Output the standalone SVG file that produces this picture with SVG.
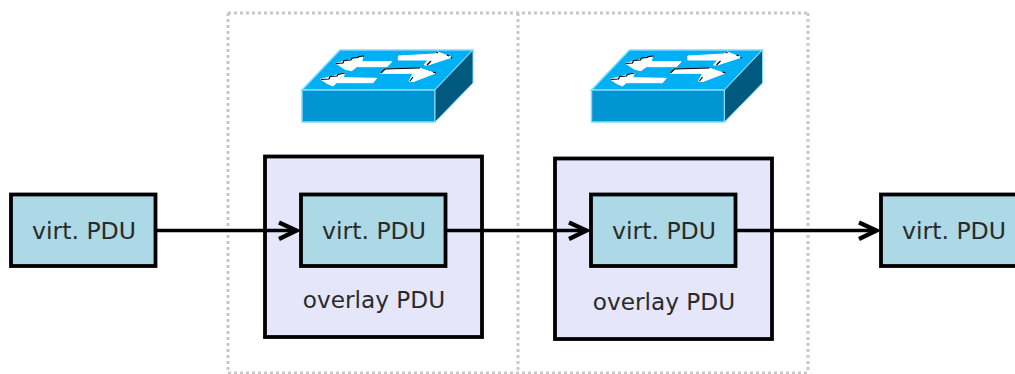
<svg xmlns="http://www.w3.org/2000/svg" width="1015" height="374" viewBox="0 0 1015 374">
<style>
.sep{fill:none;stroke:#c8c8c8;stroke-width:3;stroke-dasharray:3 3}
.outer{fill:#e6e6fa;stroke:#000;stroke-width:3.8}
.pdu{fill:#add8e6;stroke:#000;stroke-width:3.8}
.t{font-family:"DejaVu Sans",sans-serif;font-size:23.6px;fill:#2a2a2a;text-anchor:middle}
.o{font-size:23.2px}
.c{fill:none;stroke:#000;stroke-width:3.4}
.h{fill:none;stroke:#000;stroke-width:4.2}
.w{fill:#fff;stroke:#fff;stroke-width:1}
</style>
<defs>
<g id="sw">
<polygon points="302,90 340,50 473,50 435,90" fill="#00b0f4" stroke="#7fdcff" stroke-width="1.5"/>
<polygon points="302,90 435,90 435,122 302,122" fill="#0094d2" stroke="#7fdcff" stroke-width="1.5"/>
<polygon points="435,90 473,50 473,83 435,122" fill="#005a80" stroke="#7fdcff" stroke-width="1"/>
<polygon class="w" points="336,63.300 363,56.700 361.700,61.700 391.700,61.700 387,66.700 356.700,66.700 351.700,70.700 345,69.300"/>
<polygon class="w" points="320.700,79.300 345,72.700 343,77.700 376.700,78.300 373,82.700 336.700,82.700 333,86 326.700,83.300"/>
<polygon class="w" points="398.300,56 435,54 436.700,51.700 451.700,57.300 428,65 424,65 428,60 398.300,60"/>
<polygon class="w" points="380.700,73.300 385,69.300 420,68.300 435,73.300 413,81.700 409,81 413,73.300"/>
<path d="M336,63.500 L343,63 L344,60.500 L351,60 L352,58 L358,57.500 L359,56.500 L364,56 M321,79.500 L329,79 L330,76.500 L337,76 L338,74.500 L345,73 M381,73 L385,69 L420,68 M436,52 L438,53 M447,55 L449,56 M451,57 L452,58 M427,65 L431,61 M410,81 L413,77 M433,72 L436,73" fill="none" stroke="#000" stroke-width="1.2"/>
</g>
</defs>
<g id="separators">
<path class="sep" d="M228,13 H808 M228,13 V373 M518,13 V373 M808,13 V373 M228,373 H808"/>
</g>
<g id="switch1"><use href="#sw"/></g>
<g id="switch2"><use href="#sw" x="289.500"/></g>
<g id="overlay1"><rect class="outer" x="265" y="156.500" width="217" height="180.500"/><text class="t o" x="374" y="308">overlay PDU</text></g>
<g id="overlay2"><rect class="outer" x="555" y="158.500" width="217" height="180.500"/><text class="t o" x="664" y="310">overlay PDU</text></g>
<g id="pdu1"><rect class="pdu" x="11" y="194.500" width="144.500" height="71.500"/><text class="t" x="84" y="239">virt. PDU</text></g>
<g id="pdu2"><rect class="pdu" x="301" y="194.500" width="144.500" height="71.500"/><text class="t" x="374" y="239">virt. PDU</text></g>
<g id="pdu3"><rect class="pdu" x="591" y="194.500" width="144.500" height="71.500"/><text class="t" x="664" y="239">virt. PDU</text></g>
<g id="pdu4"><rect class="pdu" x="881" y="194.500" width="144.500" height="71.500"/><text class="t" x="954" y="239">virt. PDU</text></g>
<g id="connectors">
<path class="c" d="M156,230.500 H297"/><path class="h" d="M279,222.500 L296.500,230.500 L279,239"/>
<path class="c" d="M446,230.500 H587"/><path class="h" d="M569,222.500 L586.500,230.500 L569,239"/>
<path class="c" d="M736,230.500 H877"/><path class="h" d="M859,222.500 L876.500,230.500 L859,239"/>
</g>
</svg>
